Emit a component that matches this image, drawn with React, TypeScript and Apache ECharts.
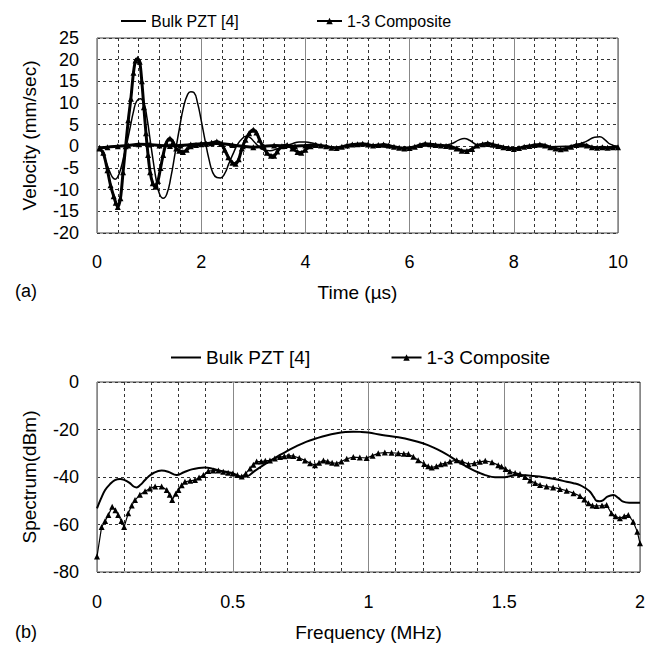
import React, { useEffect, useRef } from "react";
import * as echarts from "echarts";

// ---- (a) time domain ----
const bulkTime = [0.05,0.1,0.18,0.25,0.3,0.35,0.4,0.46,0.52,0.57,0.63,0.7,0.76,0.83,0.9,0.96,1.02,1.08,1.14,1.2,1.27,1.34,1.42,1.5,1.58,1.66,1.74,1.8,1.86,1.93,2.0,2.08,2.15,2.22,2.3,2.37,2.45,2.53,2.62,2.7,2.78,2.86,2.94,3.02,3.1,3.2,3.32,3.45,3.6,3.75,3.88,4.0,4.15,4.3,4.5,4.8,5.1,5.4,5.7,6.0,6.3,6.6,6.8,6.95,7.05,7.15,7.3,7.5,7.8,8.1,8.4,8.7,9.0,9.2,9.4,9.55,9.65,9.75,9.85,10.0];
const bulkVelocity = [-0.5,-1.5,-3.8,-6,-7.2,-7.6,-7,-5,-2,0.5,4,8,10.4,11,10,6.5,1.5,-3.5,-8,-11,-12,-11,-7,-1.5,4,9,12,12.6,12.4,10,6,1,-3,-6,-7.2,-7.3,-6.3,-4,-1.5,0.5,1.7,2.3,2,1,0,-0.8,-1,-0.6,0,0.6,1,1,0.7,0.2,-0.2,0,0.3,0,-0.3,-0.2,0.2,0.1,0.6,1.5,1.8,1.4,0.3,0,-0.2,-0.3,0,-0.1,0,0.3,1.2,2.1,2.2,1.5,0.5,0];

const compTime = [0.05,0.12,0.2,0.26,0.32,0.36,0.4,0.45,0.5,0.55,0.6,0.65,0.7,0.74,0.78,0.82,0.86,0.9,0.94,0.98,1.02,1.07,1.12,1.17,1.22,1.27,1.33,1.4,1.46,1.52,1.58,1.65,1.72,1.8,1.9,2.0,2.1,2.2,2.3,2.38,2.45,2.52,2.6,2.66,2.72,2.78,2.85,2.92,3.0,3.06,3.12,3.18,3.26,3.34,3.4,3.46,3.55,3.65,3.75,3.85,3.92,4.0,4.1,4.2,4.3,4.4,4.5,4.6,4.7,4.8,4.9,5.0,5.1,5.2,5.3,5.4,5.5,5.6,5.7,5.8,5.9,6.0,6.1,6.2,6.3,6.4,6.5,6.6,6.7,6.8,6.9,7.0,7.1,7.2,7.3,7.4,7.5,7.6,7.7,7.8,7.9,8.0,8.1,8.2,8.3,8.4,8.5,8.6,8.7,8.8,8.9,9.0,9.1,9.2,9.3,9.4,9.5,9.6,9.7,9.8,9.9,10.0];
const compVelocity = [-0.5,-1.5,-5.5,-9,-11.5,-13,-14,-12,-6,0,6,11,17,19.8,20.2,19.5,15,9,3,-2,-6,-8.5,-9.3,-8,-5,-2,0.8,1.8,1,-0.5,-1,-1.3,-0.8,0,0.3,0.5,0.6,0.8,1.1,0.6,-0.8,-2.5,-3.8,-4,-3,-0.5,1.5,3,3.8,3.2,1.5,0,-1.5,-2.2,-2.2,-1.2,0,0.3,-0.5,-1.3,-1.5,-0.8,0,0.3,0.2,0,-0.3,-0.4,-0.1,0.2,0.4,0.5,0.6,0.4,0.2,0.3,0.4,0.2,-0.1,-0.3,-0.5,-0.4,-0.1,0.3,0.6,0.5,0.3,0.2,0.1,-0.1,-0.5,-1,-1.1,-0.6,0.2,0.5,0.7,0.4,0.1,-0.2,-0.4,-0.6,-0.4,-0.1,0.1,0.3,0.4,0.2,-0.2,-0.5,-0.7,-0.5,-0.1,0.3,0.4,0.2,-0.2,-0.3,-0.2,-0.3,-0.2,-0.2];

const baseTime = [0.05,0.2,0.4,0.6,0.8,1.0,1.2,1.4,1.6,1.8,2.0,2.2,2.4,2.6,2.8,3.0,3.2,3.4,3.6,3.8,4.0,4.2];
const baseVelocity = [-0.3,-0.2,0,0.2,0.5,0.4,0.2,0.1,0.2,0.4,0.6,0.7,0.6,0.3,0,-0.2,0,0.2,0.1,0,0.2,0.3];

const timeTicks = [0, 2, 4, 6, 8, 10];
const velocityTicks = [-20, -15, -10, -5, 0, 5, 10, 15, 20, 25];

// ---- (b) spectrum ----
const bulkFreq = [0,0.015,0.03,0.048,0.066,0.085,0.1,0.12,0.135,0.146,0.16,0.175,0.189,0.21,0.238,0.262,0.293,0.32,0.349,0.375,0.398,0.425,0.447,0.475,0.502,0.527,0.551,0.58,0.613,0.645,0.674,0.705,0.735,0.77,0.809,0.845,0.883,0.915,0.944,0.97,0.999,1.05,1.11,1.16,1.2,1.24,1.27,1.3,1.33,1.355,1.38,1.405,1.43,1.466,1.495,1.52,1.546,1.58,1.607,1.64,1.668,1.7,1.73,1.755,1.779,1.8,1.816,1.83,1.84,1.852,1.865,1.88,1.902,1.92,1.938,1.96,1.975,2.0];
const bulkSpectrum = [-53.2,-49,-45.5,-43,-41.3,-40.8,-41.2,-42.5,-44,-44.4,-43.3,-41.5,-39.9,-38.2,-37.3,-37.8,-39.2,-38,-36.8,-36.2,-36,-36.5,-37.2,-37.8,-38.5,-40,-39.8,-37.5,-35,-32.7,-30.7,-28.8,-27,-25.2,-23.7,-22.5,-21.6,-21.1,-20.9,-21,-21.3,-22.3,-23.3,-24.5,-25.8,-27.6,-29.3,-31.3,-33.5,-35.2,-36.8,-38.1,-39.2,-40.1,-40.1,-39.7,-39.2,-39.3,-39.6,-40,-40.5,-41.2,-42,-42.6,-43.4,-44.8,-46.2,-48.5,-50,-50.2,-49.7,-48.3,-47.6,-48.8,-50.4,-50.8,-50.8,-50.8];

const compFreq = [0,0.017,0.03,0.042,0.056,0.068,0.078,0.09,0.1,0.115,0.128,0.14,0.158,0.177,0.195,0.214,0.238,0.257,0.268,0.277,0.29,0.3,0.312,0.324,0.343,0.361,0.376,0.392,0.41,0.428,0.447,0.465,0.483,0.5,0.517,0.533,0.548,0.564,0.576,0.588,0.605,0.62,0.637,0.655,0.674,0.69,0.707,0.723,0.745,0.766,0.785,0.803,0.818,0.834,0.85,0.866,0.883,0.9,0.92,0.944,0.968,0.993,1.015,1.036,1.06,1.085,1.11,1.13,1.147,1.165,1.183,1.205,1.22,1.233,1.25,1.266,1.282,1.3,1.325,1.345,1.368,1.39,1.41,1.43,1.455,1.478,1.49,1.505,1.521,1.54,1.558,1.577,1.595,1.614,1.632,1.656,1.68,1.705,1.73,1.755,1.779,1.795,1.81,1.825,1.84,1.86,1.877,1.895,1.91,1.926,1.942,1.957,1.975,1.99,2.0];
const compSpectrum = [-73.5,-61,-58.5,-56,-52.5,-54,-56,-58.5,-61,-55.3,-52,-49.7,-47.5,-46,-44.8,-44,-44,-45.5,-47.5,-49.7,-47,-45.5,-43.5,-42,-41.6,-41.3,-40.2,-39.2,-37.5,-37.3,-37.3,-37.8,-38.2,-38.5,-39.2,-39.8,-38.5,-36.4,-34.8,-33.5,-33.5,-33.2,-33,-32.2,-31.6,-31.3,-31,-31.2,-32,-33,-34.2,-35,-34,-33,-33.5,-34,-34.3,-33.5,-32.3,-31.6,-31.8,-32,-31,-30,-29.7,-29.8,-30,-30.2,-30.3,-31.5,-32.9,-34.5,-35.5,-36,-35.5,-34.6,-34.3,-33.5,-32.9,-33.5,-34.6,-34.2,-33.6,-33.2,-33.8,-35,-35.6,-36.6,-37.7,-38.3,-38.7,-40,-41.5,-42.5,-43.4,-44,-44.4,-45,-45.8,-46.8,-48,-49.5,-51.1,-52,-52.2,-52,-51.8,-55.3,-56.5,-57.4,-56.5,-56,-58.8,-63,-67.9];

const freqTicks = [0, 0.5, 1, 1.5, 2];
const spectrumTicks = [-80, -60, -40, -20, 0];

const zip = (xs: number[], ys: number[]) => xs.map((x, i) => [x, ys[i]]);

const FONT = "'Liberation Sans', Arial, sans-serif";
const dashed = { color: "#333", type: [3, 3] as any, width: 1 };
const solidGrid = { color: "#888", type: "solid" as any, width: 1 };

export default function App() {
  const ref = useRef<HTMLDivElement>(null);
  useEffect(() => {
    if (!ref.current) return;
    const chart = echarts.init(ref.current, null, { renderer: "svg" });
    const xAxisBase = (min: number, max: number, interval: number, name: string, gridIndex: number, nameGap: number, margin: number) => ({
      type: "value",
      gridIndex,
      min,
      max,
      interval,
      name,
      nameLocation: "middle",
      nameGap,
      nameTextStyle: { fontSize: 19, color: "#000", fontFamily: FONT },
      axisLine: { show: false },
      axisTick: { show: false },
      axisLabel: { fontSize: 18, color: "#000", fontFamily: FONT, margin },
      splitLine: { show: true, lineStyle: solidGrid },
      minorTick: { show: false, splitNumber: 5 },
      minorSplitLine: { show: true, lineStyle: dashed },
    });
    const yAxisBase = (min: number, max: number, interval: number, name: string, gridIndex: number) => ({
      type: "value",
      gridIndex,
      min,
      max,
      interval,
      name,
      nameLocation: "middle",
      nameGap: 58,
      nameTextStyle: { fontSize: 19, color: "#000", fontFamily: FONT },
      axisLine: { show: false },
      axisTick: { show: false },
      axisLabel: { fontSize: 18, color: "#000", fontFamily: FONT, margin: 18 },
      splitLine: { show: true, lineStyle: dashed },
    });
    const compStyle = {
      type: "line",
      symbol: "triangle",
      symbolSize: 6,
      showAllSymbol: true,
      itemStyle: { color: "#000" },
      lineStyle: { color: "#000", width: 3 },
    };
    const legendData = [
      { name: "Bulk PZT [4]", itemStyle: { opacity: 0 } },
      { name: "1-3 Composite" },
    ];
    chart.setOption({
      animation: false,
      backgroundColor: "#fff",
      textStyle: { fontFamily: FONT },
      grid: [
        { left: 97, top: 38, width: 521, height: 195, show: true, borderColor: "#444", borderWidth: 1, backgroundColor: "transparent" },
        { left: 97, top: 382, width: 543, height: 190, show: true, borderColor: "#444", borderWidth: 1, backgroundColor: "transparent" },
      ],
      legend: [
        {
          left: 115, top: 8, itemWidth: 25, itemHeight: 8, itemGap: 77,
          data: legendData,
          textStyle: { fontSize: 16, color: "#000", fontFamily: FONT },
          selectedMode: false,
        },
        {
          left: 165, top: 343, itemWidth: 30, itemHeight: 8, itemGap: 80,
          data: legendData,
          textStyle: { fontSize: 19, color: "#000", fontFamily: FONT },
          selectedMode: false,
        },
      ],
      xAxis: [
        { ...xAxisBase(timeTicks[0], timeTicks[timeTicks.length - 1], timeTicks[1] - timeTicks[0], "Time (µs)", 0, 50, 20) },
        { ...xAxisBase(freqTicks[0], freqTicks[freqTicks.length - 1], freqTicks[1] - freqTicks[0], "Frequency (MHz)", 1, 51, 21) },
      ],
      yAxis: [
        yAxisBase(velocityTicks[0], velocityTicks[velocityTicks.length - 1], velocityTicks[1] - velocityTicks[0], "Velocity (mm/sec)", 0),
        yAxisBase(spectrumTicks[0], spectrumTicks[spectrumTicks.length - 1], spectrumTicks[1] - spectrumTicks[0], "Spectrum(dBm)", 1),
      ],
      graphic: [
        { type: "text", left: 15, top: 282, style: { text: "(a)", fontSize: 18, fill: "#000", fontFamily: FONT } },
        { type: "text", left: 15, top: 623, style: { text: "(b)", fontSize: 18, fill: "#000", fontFamily: FONT } },
      ],
      series: [
        {
          name: "Bulk PZT [4]", type: "line", xAxisIndex: 0, yAxisIndex: 0,
          data: zip(bulkTime, bulkVelocity), symbol: "none", smooth: 0.5,
          lineStyle: { color: "#000", width: 1.5 }, itemStyle: { color: "#000" }, z: 3,
        },
        { ...compStyle, name: "1-3 Composite", xAxisIndex: 0, yAxisIndex: 0, data: zip(compTime, compVelocity), smooth: 0.3, z: 2 },
        { ...compStyle, name: "composite-baseline", xAxisIndex: 0, yAxisIndex: 0, data: zip(baseTime, baseVelocity), smooth: 0.3, z: 2 },
        {
          name: "Bulk PZT [4]", type: "line", xAxisIndex: 1, yAxisIndex: 1,
          data: zip(bulkFreq, bulkSpectrum), symbol: "none", smooth: 0.4,
          lineStyle: { color: "#000", width: 2 }, itemStyle: { color: "#000" }, z: 3,
        },
        { ...compStyle, name: "1-3 Composite", xAxisIndex: 1, yAxisIndex: 1, data: zip(compFreq, compSpectrum), smooth: 0, lineStyle: { color: "#000", width: 1.2 }, z: 2 },
      ],
    });
    return () => chart.dispose();
  }, []);
  return <div ref={ref} style={{ position: "absolute", left: 0, top: 0, width: 662, height: 645, background: "#fff" }} />;
}
